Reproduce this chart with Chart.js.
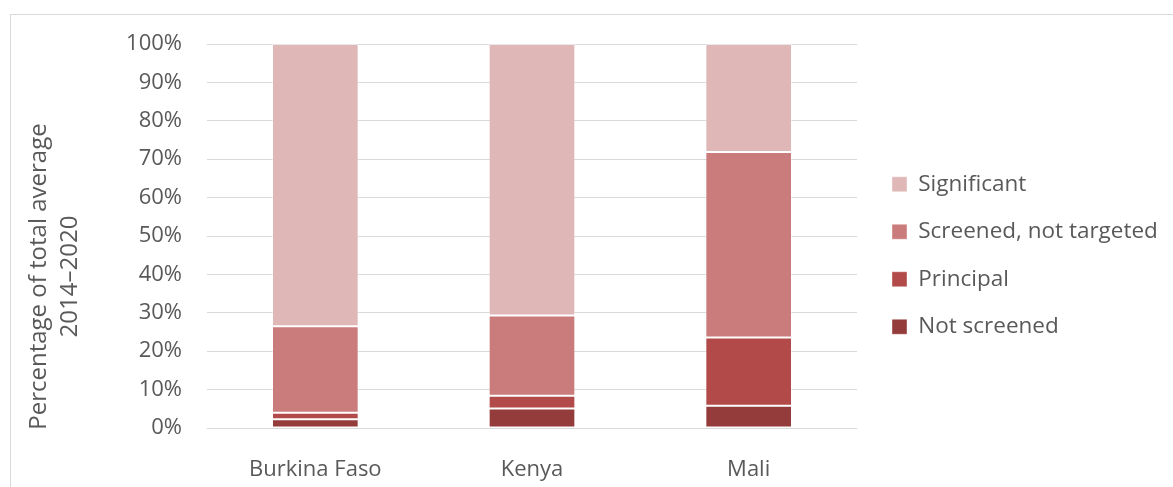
<!DOCTYPE html>
<html><head><meta charset="utf-8">
<script src="https://cdn.jsdelivr.net/npm/chart.js@4"></script>
<style>
html,body{margin:0;padding:0;background:#fff;}
#frame{position:absolute;left:10px;top:14px;width:1163px;height:473px;border-left:1px solid #d9d9d9;border-top:1px solid #d9d9d9;}
#wrap{position:absolute;left:0;top:0;width:1162px;height:472px;}
</style></head><body>
<div id="frame"><div id="wrap"><canvas id="c"></canvas></div></div>
<script>
// ---- data ----
const categories = ['Burkina Faso', 'Kenya', 'Mali'];
const seriesNames = ['Not screened', 'Principal', 'Screened, not targeted', 'Significant'];
const notScreened = [2.3, 5.1, 5.8];
const principal = [1.7, 3.3, 17.8];
const screenedNotTargeted = [22.5, 20.9, 48.3];
const significant = [73.5, 70.7, 28.1];
const yAxisTitle = ['Percentage of total average', '2014\u20132020'];

// ---- styling ----
const FONT = "'Open Sans', sans-serif";
const TXT = '#595959';
const colors = ['#943b3b', '#b14a48', '#c97c7b', '#dfb7b7'];
const FS = 22;          // tick font
const LFS = 22.5;       // legend font
const TFS = 24;         // axis title font
const LEG_PAD = 25;
const CHART_RIGHT = 846, CANVAS_W = 1162;
const LEGEND_BOX_X = 881, LEGEND_ITEM_TOP = 158;
const TITLE_SHIFT = 41; // title centre sits below the plot centre

// pad title lines with trailing spaces so their centre moves down
const mctx = document.createElement('canvas').getContext('2d');
mctx.font = TFS + 'px ' + FONT;
const spaceW = mctx.measureText(' ').width || 6;
const nSp = Math.round(2 * TITLE_SHIFT / spaceW);
const titleLines = yAxisTitle.map(t => t + ' '.repeat(nSp));

const legendPlacer = {
  id: 'legendPlacer',
  beforeLayout(chart) {
    const lg = chart.legend;
    if (lg && !lg._fixedFit) {
      const origFit = lg.fit.bind(lg);
      lg.fit = function () {
        origFit();
        this.width = CANVAS_W - CHART_RIGHT;
      };
      lg._fixedFit = true;
    }
  },
  afterLayout(chart) {
    const lg = chart.legend;
    if (!lg) return;
    const p = lg.options.labels.padding;
    lg.left = LEGEND_BOX_X - p;
    lg.right = chart.width;
    lg.top = LEGEND_ITEM_TOP - p;
    lg.bottom = chart.height;
  }
};

const seriesData = [notScreened, principal, screenedNotTargeted, significant];
new Chart(document.getElementById('c'), {
  type: 'bar',
  data: {
    labels: categories,
    datasets: seriesNames.map((n, i) => ({
      label: n,
      data: seriesData[i],
      backgroundColor: colors[i],
      borderColor: 'rgba(255,255,255,0.4)',
      borderWidth: 1,
      borderSkipped: false,
      categoryPercentage: 1,
      barPercentage: 0.4
    }))
  },
  options: {
    responsive: true,
    maintainAspectRatio: false,
    animation: false,
    layout: { padding: { top: 29, bottom: 0, left: 0, right: 0 } },
    plugins: {
      tooltip: { enabled: false },
      legend: {
        position: 'right',
        align: 'start',
        reverse: true,
        labels: {
          boxWidth: 15, boxHeight: 15, padding: LEG_PAD,
          color: TXT, font: { family: FONT, size: LFS }
        }
      }
    },
    scales: {
      x: {
        stacked: true,
        grid: { display: false },
        border: { display: false },
        ticks: { color: TXT, font: { family: FONT, size: FS }, padding: 21 },
        afterFit(s) { s.height = 59; }
      },
      y: {
        stacked: true,
        min: 0, max: 100,
        grid: { color: '#d9d9d9', lineWidth: 1, drawTicks: false },
        border: { display: false },
        ticks: { stepSize: 10, color: TXT, font: { family: FONT, size: FS }, padding: 25,
                 callback: v => v + '%' },
        title: { display: true, text: titleLines, color: TXT,
                 font: { family: FONT, size: TFS, lineHeight: 31 / 24 }, padding: { top: 12.5, bottom: 0 } },
        afterFit(s) { s.width = 196; s.paddingTop = 0; s.paddingBottom = 0; }
      }
    }
  },
  plugins: [legendPlacer]
});
</script>
</body></html>
